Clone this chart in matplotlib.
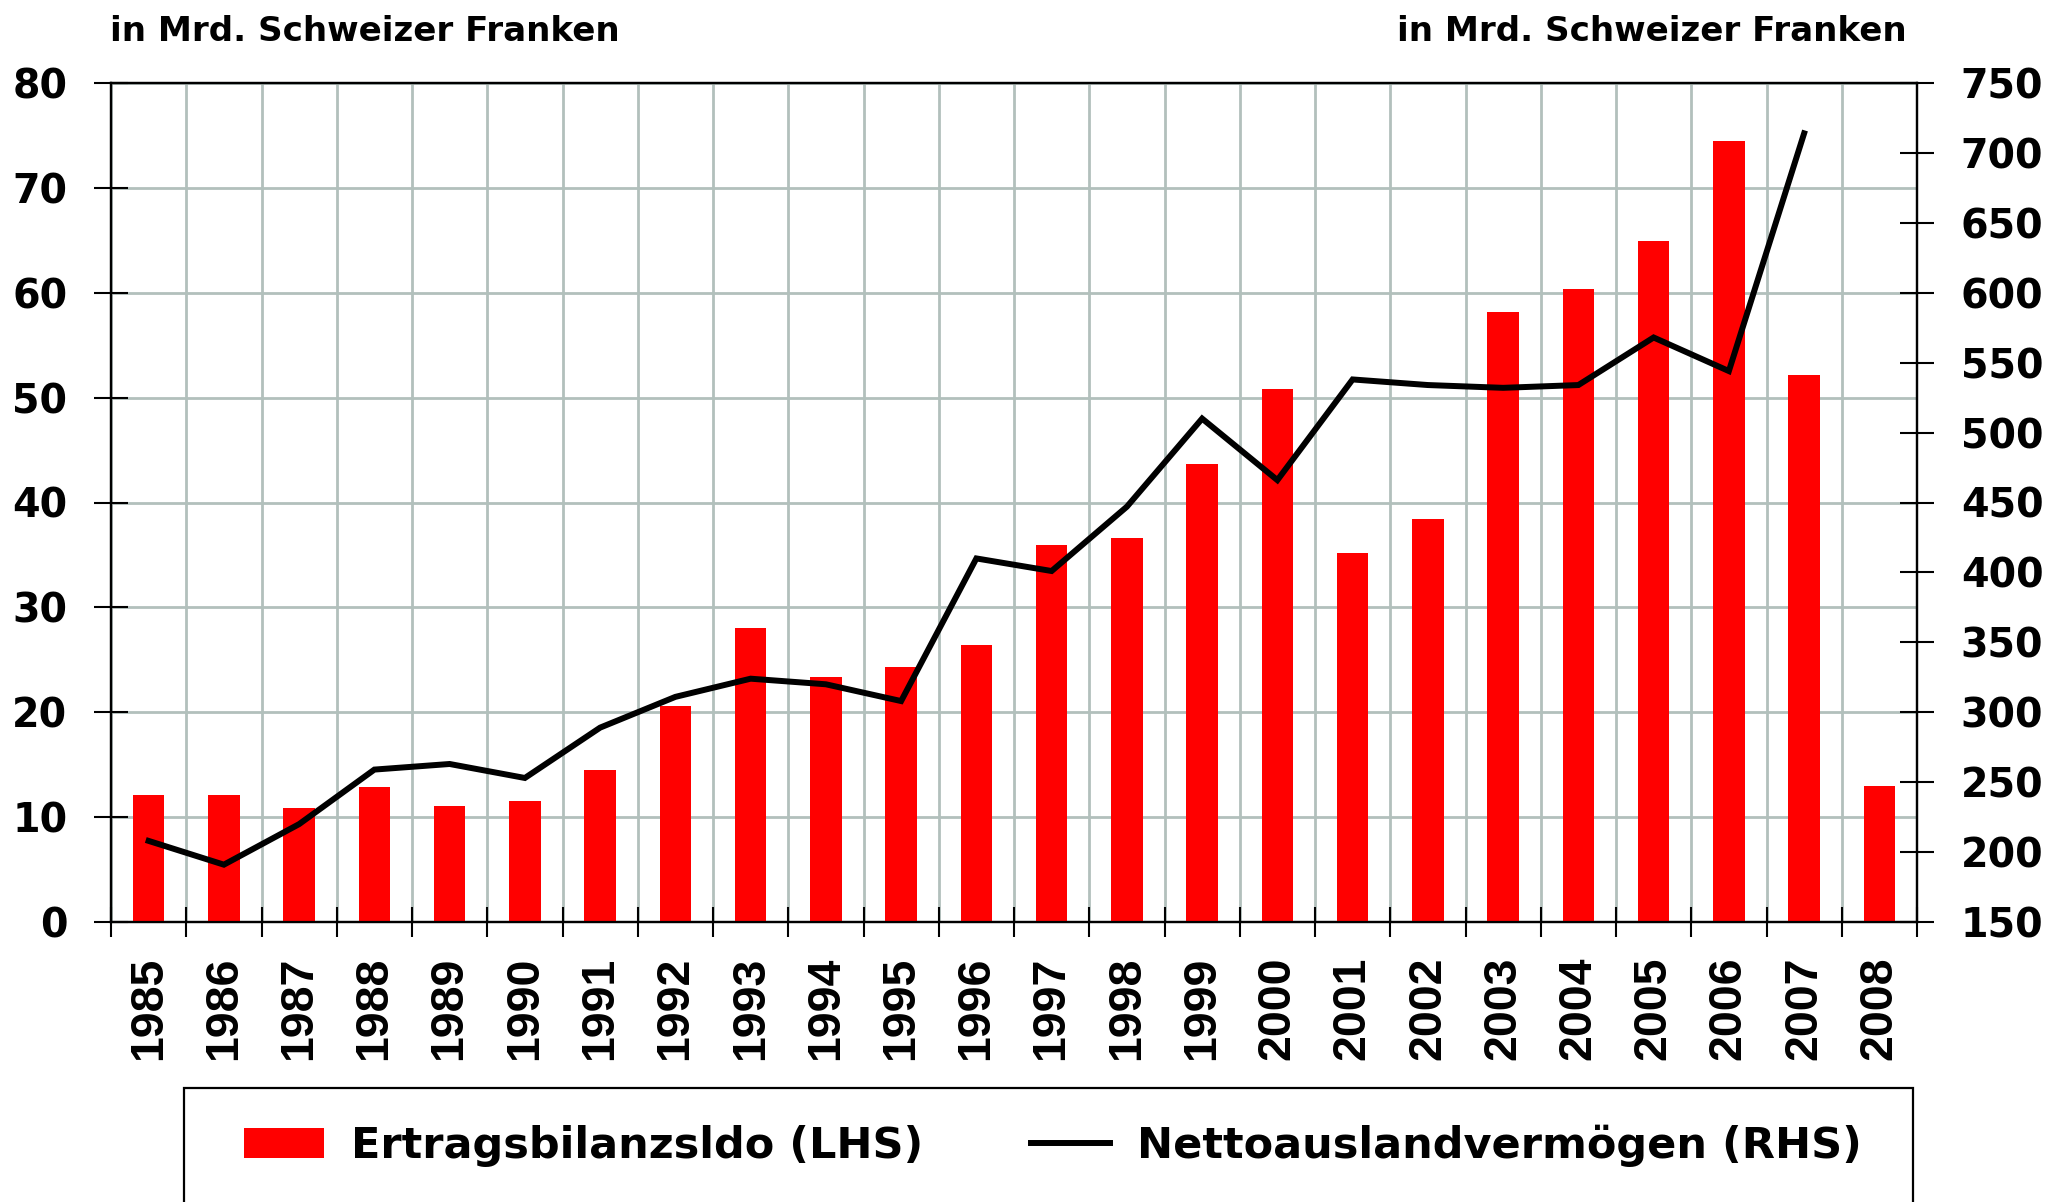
import matplotlib
matplotlib.use("Agg")
import matplotlib.pyplot as plt
from matplotlib import font_manager as fm
from matplotlib.patches import Rectangle, Patch
from matplotlib.lines import Line2D
import numpy as np

years = ["1985", "1986", "1987", "1988", "1989", "1990", "1991", "1992", "1993", "1994",
         "1995", "1996", "1997", "1998", "1999", "2000", "2001", "2002", "2003", "2004",
         "2005", "2006", "2007", "2008"]
ertragsbilanz = [12.1, 12.1, 10.9, 12.9, 11.1, 11.5, 14.5, 20.6, 28.0, 23.4,
                 24.3, 26.4, 35.9, 36.6, 43.7, 50.8, 35.2, 38.4, 58.2, 60.4,
                 64.9, 74.5, 52.2, 13.0]
netto_years = years[:23]
nettoauslandvermoegen = [208, 191, 220, 259, 263, 253, 289, 311, 324, 320,
                         308, 410, 401, 447, 510, 466, 538, 534, 532, 534,
                         568, 544, 714]

left_ticks = [0, 10, 20, 30, 40, 50, 60, 70, 80]
right_ticks = [150, 200, 250, 300, 350, 400, 450, 500, 550, 600, 650, 700, 750]
unit_label = "in Mrd. Schweizer Franken"
bar_label = "Ertragsbilanzsldo (LHS)"
line_label = "Nettoauslandvermögen (RHS)"

avail = {f.name for f in fm.fontManager.ttflist}
narrow = "Liberation Sans Narrow" if "Liberation Sans Narrow" in avail else "Liberation Sans"
wide = "DejaVu Sans"

RED = "#FF0000"
GRID = "#B2C0BC"

W, H = 2067, 1202
fig = plt.figure(figsize=(W / 100, H / 100), dpi=100)
L, R, B, T = 111, 1917, 922, 83
ax = fig.add_axes([L / W, 1 - B / H, (R - L) / W, (B - T) / H])

x = np.arange(len(years))
ax.bar(x, ertragsbilanz, width=0.42, color=RED, zorder=3)
ax.set_xlim(-0.5, len(years) - 0.5)
ax.set_ylim(0, 80)
ax.set_yticks(left_ticks)
ax.set_yticklabels([str(v) for v in left_ticks])

ax2 = ax.twinx()
xl = np.arange(len(netto_years))
ax2.plot(xl, nettoauslandvermoegen, color="black", lw=4.3, zorder=4,
         solid_joinstyle="miter")
ax2.set_ylim(150, 750)
ax2.set_yticks(right_ticks)
ax2.set_yticklabels([str(v) for v in right_ticks])
ax2.set_xlim(-0.5, len(years) - 0.5)

# grid: vertical lines at category boundaries, horizontal at left ticks
bounds = np.arange(-0.5, len(years) + 0.5, 1.0)
ax.set_xticks(bounds)
ax.set_xticklabels([])
ax.set_xticks(x, minor=True)
ax.set_xticklabels(years, minor=True, rotation=90, fontfamily=narrow,
                   fontweight="bold", fontsize=33.5)
ax.tick_params(axis="x", which="minor", length=0, pad=25)
ax.tick_params(axis="x", which="major", direction="inout", length=22, width=1.5)
ax.grid(True, which="major", color=GRID, lw=2.0, zorder=0)
ax.set_axisbelow(True)

ax.tick_params(axis="y", direction="inout", length=25, width=1.5, pad=19,
               labelsize=28.5)
ax2.tick_params(axis="y", direction="inout", length=25, width=1.5, pad=19,
                labelsize=28.5)
for lab in ax.get_yticklabels() + ax2.get_yticklabels():
    lab.set_fontfamily(wide)
    lab.set_fontweight("bold")

for a in (ax, ax2):
    for s in a.spines.values():
        s.set_linewidth(1.6)
        s.set_color("black")
ax.set_zorder(ax2.get_zorder() - 1)
ax2.patch.set_visible(False)
ax.patch.set_visible(True)

# headers
fig.text(110 / W, 1 - 41 / H, unit_label, ha="left", va="baseline",
         fontfamily=wide, fontweight="bold", fontsize=24.6)
fig.text(1907 / W, 1 - 41 / H, unit_label, ha="right", va="baseline",
         fontfamily=wide, fontweight="bold", fontsize=24.6)

# legend frame
fig.patches.append(Rectangle((184 / W, -0.05), (1913 - 184) / W, 0.05 + (1 - 1088 / H),
                             transform=fig.transFigure, fill=False,
                             edgecolor="black", lw=1.6, clip_on=False))
handles = [Patch(facecolor=RED, edgecolor="none"),
           Line2D([], [], color="black", lw=4.3)]
leg = fig.legend(handles, [bar_label, line_label], loc="center",
                 bbox_to_anchor=(1053 / W, 1 - 1146 / H), ncol=2, frameon=False,
                 prop={"family": wide, "weight": "bold", "size": 31},
                 handlelength=1.85, handleheight=0.68, handletextpad=0.62,
                 columnspacing=2.5)

fig.savefig("out.png", dpi=100)
